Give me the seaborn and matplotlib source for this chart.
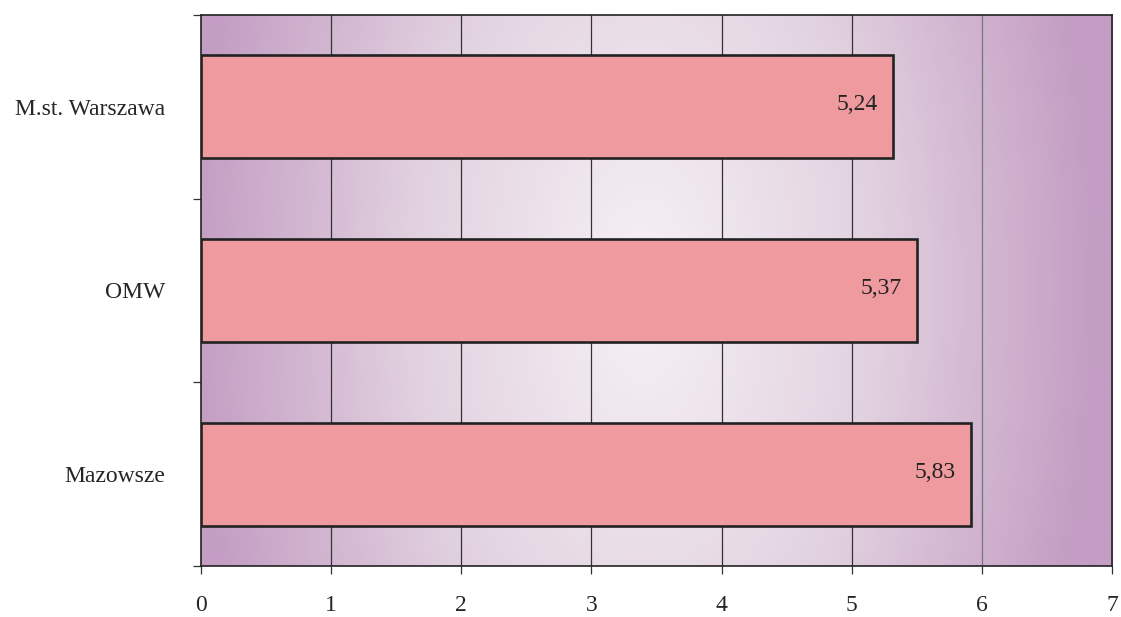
import numpy as np
import pandas as pd
from matplotlib import pyplot as plt
from matplotlib.colors import LinearSegmentedColormap
import seaborn as sns

# dane z wykresu
regions = ["M.st. Warszawa", "OMW", "Mazowsze"]
bar_lengths = [5.32, 5.50, 5.92]          # długość słupków
value_labels = ["5,24", "5,37", "5,83"]   # opisy wartości na słupkach
x_ticks = [0, 1, 2, 3, 4, 5, 6, 7]

df = pd.DataFrame({"region": regions, "value": bar_lengths})

sns.set_style("white")
plt.rcParams['font.family'] = ['Liberation Serif', 'DejaVu Serif']

fig = plt.figure(figsize=(11.21, 6.17), dpi=100)
ax = fig.add_axes([0.1793, 0.0827, 0.8127, 0.8930])

# tło - gradient fioletowy, jaśniejszy w środku
gx = np.linspace(0, 7, 400)
gy = np.linspace(-0.5, 2.5, 200)
GX, GY = np.meshgrid(gx, gy)
r = np.sqrt(((GX - 3.4) / 3.5) ** 2 + ((GY - 1.0) / 4.5) ** 2)
r = np.clip(r, 0, 1)
bg_cmap = LinearSegmentedColormap.from_list("bg", ["#f6f1f5", "#e2d2e0", "#c39dc3"])
ax.imshow(r, extent=[0, 7, 2.5, -0.5], aspect="auto", cmap=bg_cmap,
          vmin=0, vmax=1, zorder=0, interpolation="bilinear")

# linie siatki
for xv in x_ticks[1:-1]:
    ax.axvline(xv, color="#333333" if xv < 6 else "#777777", lw=0.9, zorder=1)

sns.barplot(data=df, x="value", y="region", orient="h", color="#ee9a9f",
            width=0.56, edgecolor="#222222", linewidth=1.9, saturation=1,
            ax=ax, zorder=2)

for i, (v, lab) in enumerate(zip(bar_lengths, value_labels)):
    ax.text(v - 0.12, i - 0.01, lab, ha="right", va="center",
            fontsize=17, color="#222222", zorder=3)

ax.set_xlim(0, 7)
ax.set_ylim(2.5, -0.5)
ax.set_xticks(x_ticks)
ax.set_xticklabels([str(t) for t in x_ticks], fontsize=17)
ax.set_yticks(range(len(regions)))
ax.set_yticklabels(regions, fontsize=17)
ax.set_yticks([-0.5, 0.5, 1.5, 2.5], minor=True)
ax.tick_params(axis="y", which="major", left=True, length=0, pad=26)
ax.tick_params(axis="y", which="minor", left=True, length=6, width=0.9, color="#333333")
ax.tick_params(axis="x", bottom=True, length=6, width=0.9, color="#333333", pad=15)
ax.set_xlabel("")
ax.set_ylabel("")

for s in ["left", "bottom", "top", "right"]:
    ax.spines[s].set_visible(True)
    ax.spines[s].set_color("#222222")
    ax.spines[s].set_linewidth(1.2)

fig.savefig("out.png", dpi=100)
